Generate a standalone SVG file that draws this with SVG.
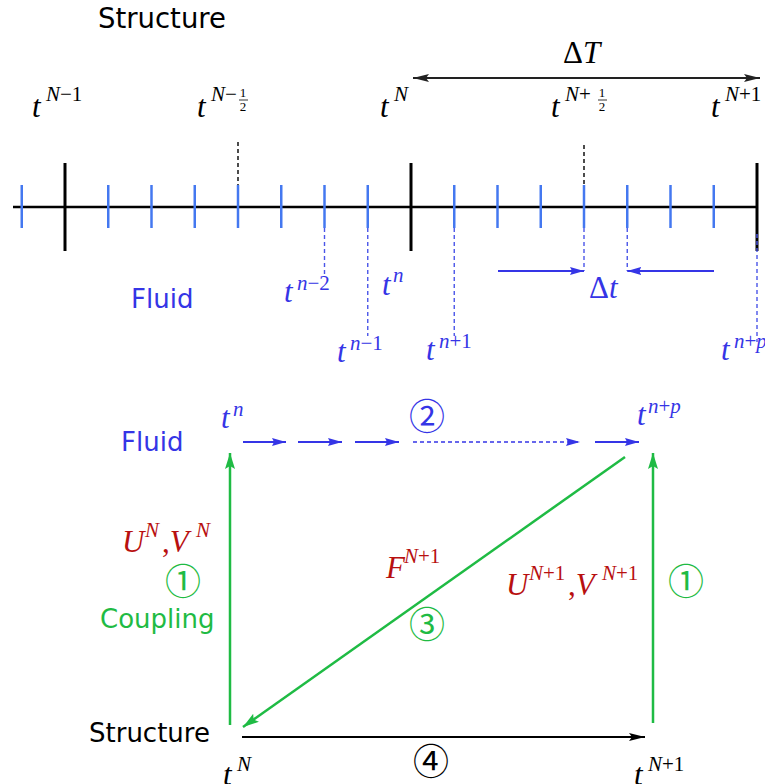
<svg xmlns="http://www.w3.org/2000/svg" width="765" height="784" viewBox="0 0 765 784">
<style>
.lbl{font-family:"DejaVu Sans",sans-serif;font-size:26px}
.m{font-family:"Liberation Serif",serif;font-style:italic;font-size:31px}
.s{font-family:"Liberation Serif",serif;font-style:italic;font-size:21px}
.up{font-style:normal}
.fr{font-family:"Liberation Serif",serif;font-style:normal;font-size:13px}
.cd{font-family:"Noto Sans CJK SC","DejaVu Sans",sans-serif;font-size:36px;text-anchor:middle}
.blk{fill:#000}
.blu{fill:#3535e6}
.grn{fill:#1fbb44}
.red{fill:#b81010}
.tk{stroke:#000;stroke-width:3}
.btk{stroke:#4478f0;stroke-width:2.5}
.bd{stroke:#4a55e8;stroke-width:1.4;stroke-dasharray:4 3;fill:none}
.kd{stroke:#000;stroke-width:1.4;stroke-dasharray:4 3;fill:none}
</style>
<defs>
<marker id="ab" markerUnits="userSpaceOnUse" markerWidth="16" markerHeight="10" refX="14" refY="5" orient="auto"><path d="M0,1 L14,5 L0,9 L2,5 z" fill="#3535e6"/></marker>
<marker id="ag" markerUnits="userSpaceOnUse" markerWidth="18" markerHeight="12" refX="16" refY="6" orient="auto"><path d="M0,1 L16,6 L0,11 L3,6 z" fill="#1fbb44"/></marker>
<marker id="ak" markerUnits="userSpaceOnUse" markerWidth="18" markerHeight="10" refX="16" refY="5" orient="auto"><path d="M0,1 L16,5 L0,9 L3,5 z" fill="#000"/></marker>
<marker id="akd" markerUnits="userSpaceOnUse" markerWidth="18" markerHeight="10" refX="16" refY="5" orient="auto-start-reverse"><path d="M0,1 L16,5 L0,9 L3,5 z" fill="#222"/></marker>
</defs>

<!-- Top part: timeline -->
<g id="timeline">
<line x1="13" y1="207" x2="757" y2="207" stroke="#000" stroke-width="2.5"/>
<line class="tk" x1="65" y1="163" x2="65" y2="251"/>
<line class="tk" x1="411" y1="163" x2="411" y2="251"/>
<line class="tk" x1="757" y1="163" x2="757" y2="251"/>
<g class="btk">
<line x1="21.75" y1="185" x2="21.75" y2="228"/>
<line x1="108.25" y1="185" x2="108.25" y2="228"/>
<line x1="151.5" y1="185" x2="151.5" y2="228"/>
<line x1="194.75" y1="185" x2="194.75" y2="228"/>
<line x1="238" y1="185" x2="238" y2="228"/>
<line x1="281.25" y1="185" x2="281.25" y2="228"/>
<line x1="324.5" y1="185" x2="324.5" y2="228"/>
<line x1="367.75" y1="185" x2="367.75" y2="228"/>
<line x1="454.25" y1="185" x2="454.25" y2="228"/>
<line x1="497.5" y1="185" x2="497.5" y2="228"/>
<line x1="540.75" y1="185" x2="540.75" y2="228"/>
<line x1="584" y1="185" x2="584" y2="228"/>
<line x1="627.25" y1="185" x2="627.25" y2="228"/>
<line x1="670.5" y1="185" x2="670.5" y2="228"/>
<line x1="713.75" y1="185" x2="713.75" y2="228"/>
</g>
<line class="kd" x1="238" y1="142" x2="238" y2="185"/>
<line class="kd" x1="584" y1="145" x2="584" y2="185"/>
<line class="bd" x1="324.5" y1="228" x2="324.5" y2="276"/>
<line class="bd" x1="367.75" y1="228" x2="367.75" y2="336"/>
<line class="bd" x1="454.25" y1="228" x2="454.25" y2="336"/>
<line class="bd" x1="584" y1="228" x2="584" y2="271"/>
<line class="bd" x1="627.25" y1="228" x2="627.25" y2="271"/>
<line class="bd" x1="757" y1="234" x2="757" y2="342"/>
<line x1="498" y1="271" x2="584" y2="271" stroke="#3535e6" stroke-width="1.8" marker-end="url(#ab)"/>
<line x1="714" y1="271" x2="627.25" y2="271" stroke="#3535e6" stroke-width="1.8" marker-end="url(#ab)"/>
<line x1="413" y1="78" x2="760" y2="78" stroke="#222" stroke-width="2" marker-start="url(#akd)" marker-end="url(#akd)"/>
</g>

<g id="top-labels">
<text class="lbl blk" x="98" y="28" style="font-size:27.5px">Structure</text>
<text class="m blk" x="563" y="63"><tspan class="up">Δ</tspan>T</text>
<text class="m blk" x="32" y="117">t</text><text class="s blk" x="46" y="101">N<tspan class="up">−1</tspan></text>
<text class="m blk" x="197" y="117">t</text><text class="s blk" x="211" y="101">N<tspan class="up">−</tspan></text>
<text class="fr blk" x="243" y="97" text-anchor="middle">1</text><line x1="239" y1="100" x2="248" y2="100" stroke="#000" stroke-width="0.8"/><text class="fr blk" x="243" y="111" text-anchor="middle">2</text>
<text class="m blk" x="380" y="117">t</text><text class="s blk" x="394" y="101">N</text>
<text class="m blk" x="551" y="117">t</text><text class="s blk" x="565" y="101">N<tspan class="up">+</tspan></text>
<text class="fr blk" x="602" y="97" text-anchor="middle">1</text><line x1="598" y1="100" x2="607" y2="100" stroke="#000" stroke-width="0.8"/><text class="fr blk" x="602" y="111" text-anchor="middle">2</text>
<text class="m blk" x="711" y="117">t</text><text class="s blk" x="725" y="101">N<tspan class="up">+1</tspan></text>
<text class="lbl blu" x="131" y="308">Fluid</text>
<text class="m blu" x="284" y="302">t</text><text class="s blu" x="297" y="290">n<tspan class="up">−2</tspan></text>
<text class="m blu" x="382" y="295">t</text><text class="s blu" x="393" y="282">n</text>
<text class="m blu" x="337" y="362">t</text><text class="s blu" x="350" y="350">n<tspan class="up">−1</tspan></text>
<text class="m blu" x="426" y="360">t</text><text class="s blu" x="439" y="348">n<tspan class="up">+1</tspan></text>
<text class="m blu" x="721" y="360">t</text><text class="s blu" x="734" y="348">n<tspan class="up">+</tspan>p</text>
<text class="m blu" x="589" y="298"><tspan class="up">Δ</tspan>t</text>
</g>

<!-- Bottom part: coupling diagram -->
<g id="connectors">
<line x1="243" y1="442" x2="286" y2="442" stroke="#3535e6" stroke-width="2.2" marker-end="url(#ab)"/>
<line x1="298" y1="442" x2="342" y2="442" stroke="#3535e6" stroke-width="2.2" marker-end="url(#ab)"/>
<line x1="355" y1="442" x2="399" y2="442" stroke="#3535e6" stroke-width="2.2" marker-end="url(#ab)"/>
<line x1="413" y1="442" x2="580" y2="442" stroke="#3535e6" stroke-width="1.3" stroke-dasharray="4 3" marker-end="url(#ab)"/>
<line x1="595" y1="442" x2="639" y2="442" stroke="#3535e6" stroke-width="2.2" marker-end="url(#ab)"/>
<line x1="230" y1="725" x2="230" y2="453" stroke="#1fbb44" stroke-width="2.5" marker-end="url(#ag)"/>
<line x1="653" y1="723" x2="653" y2="453" stroke="#1fbb44" stroke-width="2.5" marker-end="url(#ag)"/>
<line x1="625" y1="457" x2="243" y2="727" stroke="#1fbb44" stroke-width="2.5" marker-end="url(#ag)"/>
<line x1="242" y1="737" x2="645" y2="737" stroke="#000" stroke-width="2" marker-end="url(#ak)"/>
</g>

<g id="fluid-row">
<text class="lbl blu" x="121" y="451">Fluid</text>
<text class="m blu" x="221" y="428">t</text><text class="s blu" x="233" y="416">n</text>
<text class="cd blu" x="427" y="430">②</text>
<text class="m blu" x="637" y="425">t</text><text class="s blu" x="648" y="413">n<tspan class="up">+</tspan>p</text>
</g>

<g id="coupling-left">
<text class="m red" x="122" y="552">U</text><text class="s red" x="145" y="537">N</text><text class="m red" x="162" y="552"><tspan class="up">,</tspan>V</text><text class="s red" x="196" y="537">N</text>
<text class="cd grn" x="183" y="595">①</text>
<text class="lbl grn" x="100" y="628">Coupling</text>
</g>

<g id="coupling-mid">
<text class="m red" x="386" y="578">F</text><text class="s red" x="404" y="563">N<tspan class="up">+1</tspan></text>
<text class="cd grn" x="427" y="638">③</text>
</g>

<g id="coupling-right">
<text class="m red" x="506" y="595">U</text><text class="s red" x="529" y="580">N<tspan class="up">+1</tspan></text><text class="m red" x="568" y="595"><tspan class="up">,</tspan>V</text><text class="s red" x="602" y="580">N<tspan class="up">+1</tspan></text>
<text class="cd grn" x="686" y="595">①</text>
</g>

<g id="structure-row">
<text class="lbl blk" x="89" y="742">Structure</text>
<text class="m blk" x="223" y="785">t</text><text class="s blk" x="237" y="771">N</text>
<text class="cd blk" x="431" y="775">④</text>
<text class="m blk" x="634" y="785">t</text><text class="s blk" x="648" y="771">N<tspan class="up">+1</tspan></text>
</g>
</svg>
